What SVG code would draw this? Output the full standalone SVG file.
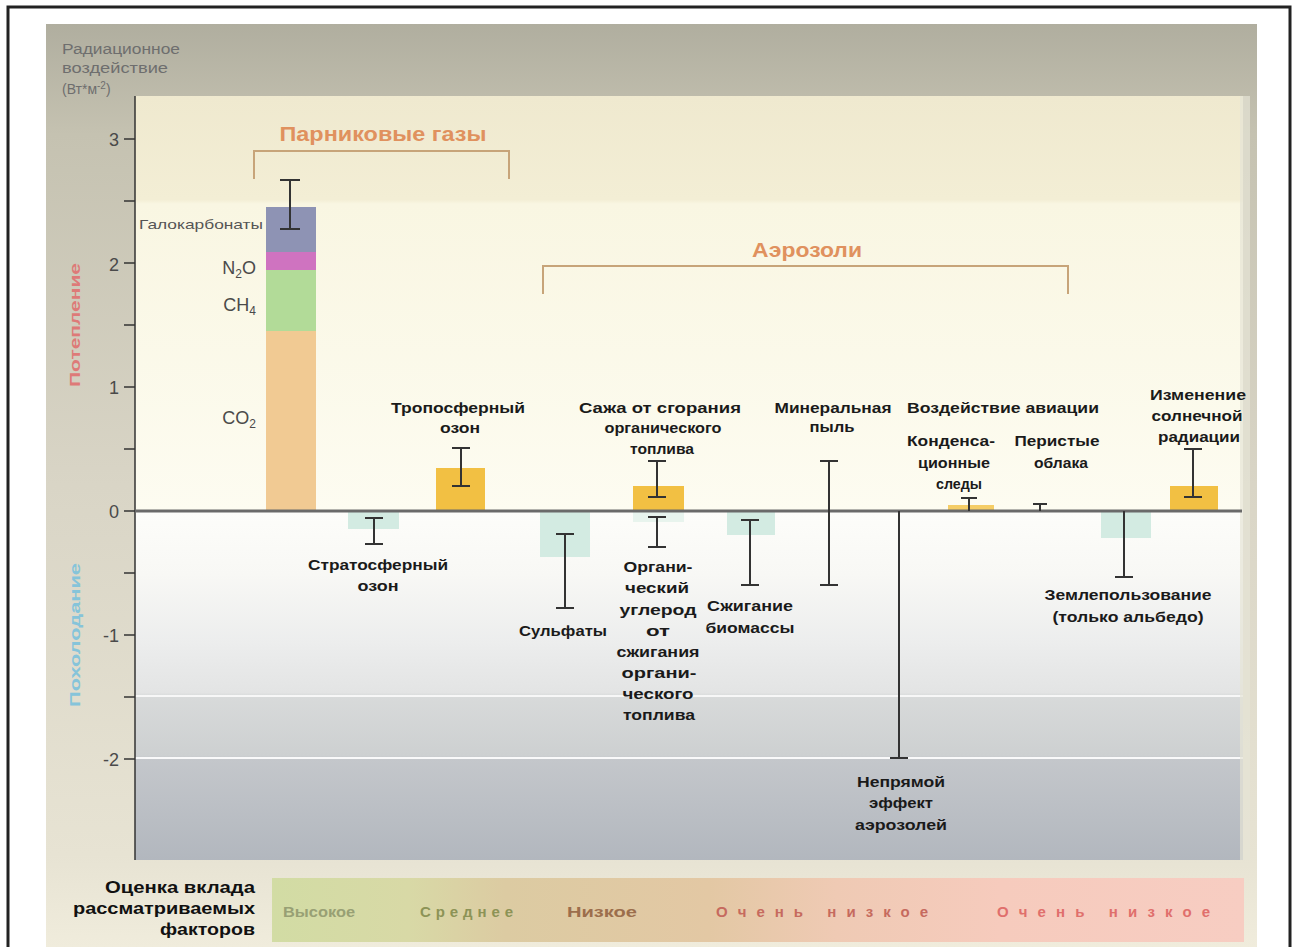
<svg xmlns="http://www.w3.org/2000/svg" width="1292" height="947" viewBox="0 0 1292 947">
  <defs>
    <linearGradient id="frameG" x1="0" y1="0" x2="0" y2="1">
      <stop offset="0" stop-color="#b0ae9f"/>
      <stop offset="0.12" stop-color="#c5c2b1"/>
      <stop offset="0.5" stop-color="#d9d5c6"/>
      <stop offset="0.9" stop-color="#e7e3d3"/>
      <stop offset="1" stop-color="#f0ecdc"/>
    </linearGradient>
    <linearGradient id="warmG" x1="0" y1="0" x2="0" y2="1">
      <stop offset="0" stop-color="#efe9cf"/>
      <stop offset="0.25" stop-color="#f3eed5"/>
      <stop offset="0.26" stop-color="#f9f6e2"/>
      <stop offset="1" stop-color="#fdfcf1"/>
    </linearGradient>
    <linearGradient id="coolG" x1="0" y1="0" x2="0" y2="1">
      <stop offset="0" stop-color="#fdfdfa"/>
      <stop offset="0.18" stop-color="#f8f8f5"/>
      <stop offset="0.38" stop-color="#eceded"/>
      <stop offset="0.52" stop-color="#e3e4e4"/>
      <stop offset="0.53" stop-color="#d8dada"/>
      <stop offset="0.70" stop-color="#cdd0d1"/>
      <stop offset="0.71" stop-color="#c4c7cb"/>
      <stop offset="1" stop-color="#b2b7be"/>
    </linearGradient>
    <linearGradient id="legG" x1="0" y1="0" x2="1" y2="0">
      <stop offset="0" stop-color="#d2dca4"/>
      <stop offset="0.14" stop-color="#d8d9a6"/>
      <stop offset="0.24" stop-color="#dccba2"/>
      <stop offset="0.45" stop-color="#e3c8a4"/>
      <stop offset="0.58" stop-color="#efcab4"/>
      <stop offset="0.75" stop-color="#f6cbbd"/>
      <stop offset="1" stop-color="#f7cdc2"/>
    </linearGradient>
    <style>
      .lbl{font-family:"Liberation Sans","DejaVu Sans",sans-serif;font-size:15px;font-weight:bold;fill:#1a1a1a;text-anchor:middle}
      .tick{font-family:"Liberation Sans","DejaVu Sans",sans-serif;font-size:18px;fill:#4a4a4a;text-anchor:end}
      .gas{font-family:"Liberation Sans","DejaVu Sans",sans-serif;font-size:18px;fill:#4a4a4a;text-anchor:end}
      .err{stroke:#333;stroke-width:2;fill:none}
      .brk{stroke:#c7a479;stroke-width:2;fill:none}
      .grp{font-family:"Liberation Sans","DejaVu Sans",sans-serif;font-size:20px;font-weight:bold;fill:#e0915e;text-anchor:middle}
      .leg{font-family:"Liberation Sans","DejaVu Sans",sans-serif;font-size:15px;font-weight:bold}
      .gold{fill:#f2c043}
      .teal{fill:#d3ebe2}
    </style>
  </defs>

  <!-- outer border and frame -->
  <rect x="8" y="7" width="1282" height="950" fill="#ffffff" stroke="#222" stroke-width="3"/>
  <rect x="46" y="24" width="1211" height="923" fill="url(#frameG)"/>

  <!-- plot background -->
  <g id="plot-bg">
    <rect x="135" y="96" width="1108" height="415" fill="url(#warmG)"/>
    <rect x="135" y="511" width="1108" height="349" fill="url(#coolG)"/>
    <line x1="135" y1="696" x2="1243" y2="696" stroke="#ffffff" stroke-width="2" opacity="0.8"/>
    <line x1="135" y1="758" x2="1243" y2="758" stroke="#ffffff" stroke-width="2" opacity="0.9"/>
    <rect x="1240" y="96" width="10" height="764" fill="#e6e4d6" opacity="0.7"/>
  </g>

  <!-- axis title -->
  <g id="axis-title" font-family="Liberation Sans, DejaVu Sans, sans-serif" font-size="14" fill="#6e6e6e">
    <text x="62" y="54" textLength="118" lengthAdjust="spacingAndGlyphs">Радиационное</text>
    <text x="62" y="73" textLength="106" lengthAdjust="spacingAndGlyphs">воздействие</text>
    <text x="62" y="94">(Вт*м<tspan font-size="10" dy="-5">-2</tspan><tspan dy="5">)</tspan></text>
  </g>

  <!-- side labels -->
  <g id="side-labels" font-family="Liberation Sans, DejaVu Sans, sans-serif" font-size="15" font-weight="bold" text-anchor="middle">
    <text transform="translate(80,325) rotate(-90)" fill="#de7a78" textLength="124" lengthAdjust="spacingAndGlyphs">Потепление</text>
    <text transform="translate(80,635) rotate(-90)" fill="#86c4da" textLength="144" lengthAdjust="spacingAndGlyphs">Похолодание</text>
  </g>

  <!-- axis -->
  <g id="axis" stroke="#333" stroke-width="1.5">
    <line x1="135" y1="96" x2="135" y2="860"/>
    <line x1="124" y1="139" x2="135" y2="139"/>
    <line x1="124" y1="201" x2="135" y2="201"/>
    <line x1="124" y1="263" x2="135" y2="263"/>
    <line x1="124" y1="325" x2="135" y2="325"/>
    <line x1="124" y1="387" x2="135" y2="387"/>
    <line x1="124" y1="449" x2="135" y2="449"/>
    <line x1="124" y1="511" x2="135" y2="511"/>
    <line x1="124" y1="573" x2="135" y2="573"/>
    <line x1="124" y1="635" x2="135" y2="635"/>
    <line x1="124" y1="697" x2="135" y2="697"/>
    <line x1="124" y1="759" x2="135" y2="759"/>
  </g>
  <g id="tick-labels">
    <text class="tick" x="119" y="146">3</text>
    <text class="tick" x="119" y="271">2</text>
    <text class="tick" x="119" y="394">1</text>
    <text class="tick" x="119" y="518">0</text>
    <text class="tick" x="119" y="642">-1</text>
    <text class="tick" x="119" y="766">-2</text>
  </g>

  <!-- group brackets -->
  <g id="greenhouse-bracket">
    <path class="brk" d="M254,179 V151 H509 V179"/>
    <text class="grp" x="383" y="141" textLength="207" lengthAdjust="spacingAndGlyphs">Парниковые газы</text>
  </g>
  <g id="aerosol-bracket">
    <path class="brk" d="M543,294 V266 H1068 V294"/>
    <text class="grp" x="807" y="257" textLength="110" lengthAdjust="spacingAndGlyphs">Аэрозоли</text>
  </g>

  <!-- well-mixed greenhouse gases bar -->
  <g id="ghg">
    <rect x="266" y="331" width="50" height="180" fill="#f1ca93"/>
    <rect x="266" y="270" width="50" height="61" fill="#b2db98"/>
    <rect x="266" y="252" width="50" height="18" fill="#cf73c0"/>
    <rect x="266" y="207" width="50" height="45" fill="#8e93b4"/>
    <text x="263" y="229" font-family="Liberation Sans, DejaVu Sans, sans-serif" font-size="13" fill="#555" text-anchor="end" textLength="124" lengthAdjust="spacingAndGlyphs">Галокарбонаты</text>
    <text class="gas" x="256" y="274">N<tspan font-size="12" dy="4">2</tspan><tspan dy="-4">O</tspan></text>
    <text class="gas" x="256" y="311">CH<tspan font-size="12" dy="4">4</tspan></text>
    <text class="gas" x="256" y="424">CO<tspan font-size="12" dy="4">2</tspan></text>
  </g>

  <!-- bars -->
  <g id="bars">
    <rect class="teal" x="348" y="512" width="51" height="17"/>
    <rect class="gold" x="436" y="468" width="49" height="43"/>
    <rect class="teal" x="540" y="512" width="50" height="45"/>
    <rect class="gold" x="633" y="486" width="51" height="25"/>
    <rect class="teal" x="633" y="512" width="51" height="10" opacity="0.5"/>
    <rect class="teal" x="727" y="512" width="48" height="23"/>
    <rect class="gold" x="948" y="505" width="46" height="6" opacity="0.8"/>
    <rect class="teal" x="1101" y="512" width="50" height="26"/>
    <rect class="gold" x="1170" y="486" width="48" height="25"/>
  </g>

  <!-- zero line -->
  <line id="zero-line" x1="135" y1="511" x2="1242" y2="511" stroke="#6a6a6a" stroke-width="3"/>

  <!-- error bars -->
  <g id="error-bars" class="err">
    <path d="M280,180 H300 M290,180 V229 M280,229 H300"/>
    <path d="M365,518 H383 M374,518 V544 M365,544 H383"/>
    <path d="M452,448 H470 M461,448 V486 M452,486 H470"/>
    <path d="M556,534 H574 M565,534 V608 M556,608 H574"/>
    <path d="M648,461 H666 M657,461 V497 M648,497 H666"/>
    <path d="M648,517 H666 M657,517 V547 M648,547 H666"/>
    <path d="M741,520 H759 M750,520 V585 M741,585 H759"/>
    <path d="M820,461 H838 M829,461 V585 M820,585 H838"/>
    <path d="M899,511 V758 M890,758 H908"/>
    <path d="M961,498 H977 M969,498 V511"/>
    <path d="M1033,504 H1047 M1040,504 V511"/>
    <path d="M1124,511 V577 M1115,577 H1133"/>
    <path d="M1184,449 H1202 M1193,449 V497 M1184,497 H1202"/>
  </g>

  <!-- labels -->
  <g id="node-trop-ozone">
    <text class="lbl" x="458" y="413" textLength="134" lengthAdjust="spacingAndGlyphs">Тропосферный</text>
    <text class="lbl" x="460" y="433" textLength="40" lengthAdjust="spacingAndGlyphs">озон</text>
  </g>
  <g id="node-strat-ozone">
    <text class="lbl" x="378" y="570" textLength="140" lengthAdjust="spacingAndGlyphs">Стратосферный</text>
    <text class="lbl" x="378" y="591" textLength="41" lengthAdjust="spacingAndGlyphs">озон</text>
  </g>
  <g id="node-soot">
    <text class="lbl" x="660" y="413" textLength="162" lengthAdjust="spacingAndGlyphs">Сажа от сгорания</text>
    <text class="lbl" x="663" y="433" textLength="117" lengthAdjust="spacingAndGlyphs">органического</text>
    <text class="lbl" x="662" y="454" textLength="64" lengthAdjust="spacingAndGlyphs">топлива</text>
  </g>
  <g id="node-organic-carbon">
    <text class="lbl" x="658" y="572" textLength="69" lengthAdjust="spacingAndGlyphs">Органи-</text>
    <text class="lbl" x="657" y="593" textLength="64" lengthAdjust="spacingAndGlyphs">ческий</text>
    <text class="lbl" x="658" y="615" textLength="77" lengthAdjust="spacingAndGlyphs">углерод</text>
    <text class="lbl" x="658" y="636" textLength="24" lengthAdjust="spacingAndGlyphs">от</text>
    <text class="lbl" x="658" y="657" textLength="83" lengthAdjust="spacingAndGlyphs">сжигания</text>
    <text class="lbl" x="659" y="678" textLength="75" lengthAdjust="spacingAndGlyphs">органи-</text>
    <text class="lbl" x="658" y="699" textLength="71" lengthAdjust="spacingAndGlyphs">ческого</text>
    <text class="lbl" x="659" y="720" textLength="72" lengthAdjust="spacingAndGlyphs">топлива</text>
  </g>
  <g id="node-sulfates">
    <text class="lbl" x="563" y="636" textLength="88" lengthAdjust="spacingAndGlyphs">Сульфаты</text>
  </g>
  <g id="node-biomass">
    <text class="lbl" x="750" y="611" textLength="86" lengthAdjust="spacingAndGlyphs">Сжигание</text>
    <text class="lbl" x="750" y="633" textLength="89" lengthAdjust="spacingAndGlyphs">биомассы</text>
  </g>
  <g id="node-mineral-dust">
    <text class="lbl" x="833" y="413" textLength="117" lengthAdjust="spacingAndGlyphs">Минеральная</text>
    <text class="lbl" x="832" y="432" textLength="45" lengthAdjust="spacingAndGlyphs">пыль</text>
  </g>
  <g id="node-aviation">
    <text class="lbl" x="1003" y="413" textLength="192" lengthAdjust="spacingAndGlyphs">Воздействие авиации</text>
    <text class="lbl" x="951" y="446" textLength="88" lengthAdjust="spacingAndGlyphs">Конденса-</text>
    <text class="lbl" x="954" y="468" textLength="72" lengthAdjust="spacingAndGlyphs">ционные</text>
    <text class="lbl" x="959" y="489" textLength="46" lengthAdjust="spacingAndGlyphs">следы</text>
    <text class="lbl" x="1057" y="446" textLength="85" lengthAdjust="spacingAndGlyphs">Перистые</text>
    <text class="lbl" x="1061" y="468" textLength="54" lengthAdjust="spacingAndGlyphs">облака</text>
  </g>
  <g id="node-indirect">
    <text class="lbl" x="901" y="787" textLength="88" lengthAdjust="spacingAndGlyphs">Непрямой</text>
    <text class="lbl" x="901" y="808" textLength="64" lengthAdjust="spacingAndGlyphs">эффект</text>
    <text class="lbl" x="901" y="830" textLength="92" lengthAdjust="spacingAndGlyphs">аэрозолей</text>
  </g>
  <g id="node-land-use">
    <text class="lbl" x="1128" y="600" textLength="167" lengthAdjust="spacingAndGlyphs">Землепользование</text>
    <text class="lbl" x="1128" y="622" textLength="151" lengthAdjust="spacingAndGlyphs">(только альбедо)</text>
  </g>
  <g id="node-solar">
    <text class="lbl" x="1198" y="400" textLength="96" lengthAdjust="spacingAndGlyphs">Изменение</text>
    <text class="lbl" x="1197" y="421" textLength="91" lengthAdjust="spacingAndGlyphs">солнечной</text>
    <text class="lbl" x="1199" y="442" textLength="82" lengthAdjust="spacingAndGlyphs">радиации</text>
  </g>

  <!-- legend -->
  <g id="legend">
    <rect x="272" y="878" width="972" height="64" fill="url(#legG)"/>
    <g font-family="Liberation Sans, DejaVu Sans, sans-serif" font-size="16" font-weight="bold" fill="#111" text-anchor="end">
      <text x="255" y="893" textLength="150" lengthAdjust="spacingAndGlyphs">Оценка вклада</text>
      <text x="255" y="914" textLength="182" lengthAdjust="spacingAndGlyphs">рассматриваемых</text>
      <text x="255" y="935" textLength="95" lengthAdjust="spacingAndGlyphs">факторов</text>
    </g>
    <text class="leg" x="283" y="917" font-size="13" font-weight="normal" fill="#98a074" textLength="72" lengthAdjust="spacingAndGlyphs">Высокое</text>
    <text class="leg" x="420" y="917" fill="#8c9356" textLength="93" lengthAdjust="spacing">Среднее</text>
    <text class="leg" x="567" y="917" fill="#9c6e4c" textLength="70" lengthAdjust="spacingAndGlyphs">Низкое</text>
    <text class="leg" x="716" y="917" fill="#c66a5e" textLength="212" lengthAdjust="spacing">Очень низкое</text>
    <text class="leg" x="997" y="917" fill="#e06f6c" textLength="213" lengthAdjust="spacing">Очень низкое</text>
  </g>
</svg>
